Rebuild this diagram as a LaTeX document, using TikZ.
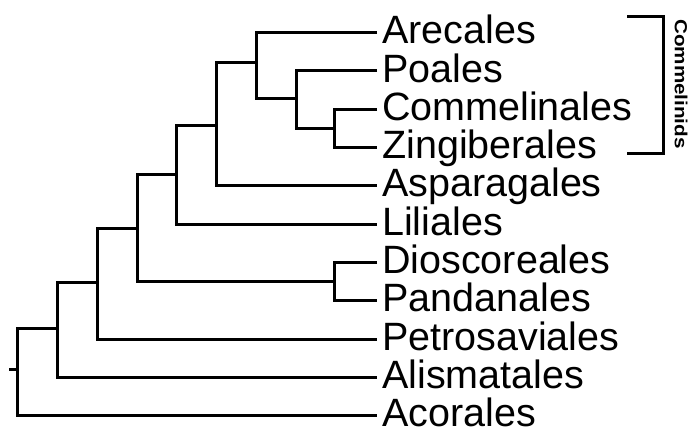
\documentclass[tikz,border=0pt]{standalone}
\usepackage{fontspec}
\setmainfont{Liberation Sans}
\usetikzlibrary{calc}

\tikzset{
  taxon/.style={anchor=west,inner xsep=5pt,inner ysep=0pt,text height=22pt,text depth=0pt,
    font=\fontsize{39.5}{40}\selectfont},
  branch/.style={line width=3pt}
}

\begin{document}
\begin{tikzpicture}[x=1pt,y=-1pt]
\useasboundingbox (0,0) rectangle (691,428);

% leaves
\node[taxon] (arecales) at (377,33) {Arecales};
\node[taxon] (poales) at (377,71) {Poales};
\node[taxon] (commelinales) at (377,109) {Commelinales};
\node[taxon] (zingiberales) at (377,147) {Zingiberales};
\node[taxon] (asparagales) at (377,185) {Asparagales};
\node[taxon] (liliales) at (377,224) {Liliales};
\node[taxon] (dioscoreales) at (377,262) {Dioscoreales};
\node[taxon] (pandanales) at (377,300) {Pandanales};
\node[taxon] (petrosaviales) at (377,339) {Petrosaviales};
\node[taxon] (alismatales) at (377,377) {Alismatales};
\node[taxon] (acorales) at (377,415) {Acorales};

% internal nodes
\coordinate (cz) at (334,128);
\coordinate (po) at (296,98);
\coordinate (ar) at (256,63);
\coordinate (as) at (216,125);
\coordinate (li) at (176,174);
\coordinate (dp) at (334,281);
\coordinate (di) at (137,228);
\coordinate (pe) at (97,282);
\coordinate (al) at (57,328);
\coordinate (root) at (17,369);
\coordinate (stem) at (9,369);

\begin{scope}[branch]
\draw (commelinales.west) -| (cz) |- (zingiberales.west);
\draw (poales.west) -| (po) |- (cz);
\draw (arecales.west) -| (ar) |- (po);
\draw (ar) -| (as) |- (asparagales.west);
\draw (as) -| (li) |- (liliales.west);
\draw (dioscoreales.west) -| (dp) |- (pandanales.west);
\draw (li) -| (di) |- (dp);
\draw (di) -| (pe) |- (petrosaviales.west);
\draw (pe) -| (al) |- (alismatales.west);
\draw (al) -| (root) |- (acorales.west);
\draw (stem) -- (root);
\end{scope}

% clade bracket
\coordinate (cmtop) at (627,17);
\coordinate (cmbot) at (627,153);
\draw[branch] (cmtop) -- ++(36,0) |- (cmbot);
\node[rotate=-90,font=\fontsize{17.5}{18}\selectfont\bfseries] (commelinids) at (681,84)
  {\scalebox{1.18}[1]{Commelinids}};
\end{tikzpicture}
\end{document}
